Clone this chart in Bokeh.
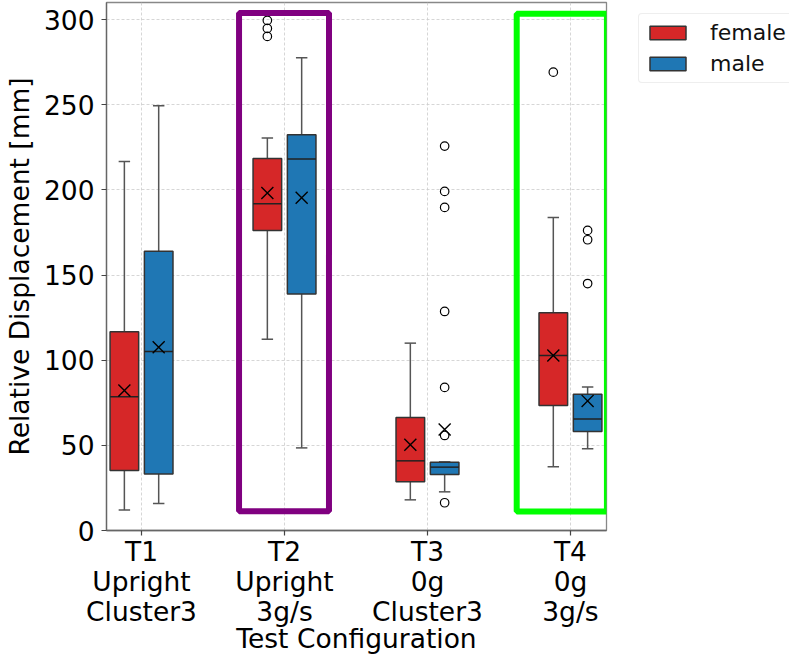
from bokeh.plotting import figure
from bokeh.models import FixedTicker, Legend, LegendItem, BoxAnnotation, ColumnDataSource
from bokeh.embed import file_html
from bokeh.resources import INLINE

# ---------------- data ----------------
categories = ["T1\nUpright\nCluster3", "T2\nUpright\n3g/s", "T3\n0g\nCluster3", "T4\n0g\n3g/s"]
groups = ["female", "male"]

female_q1 = [35.2, 176.2, 28.6, 73.4]
female_med = [78.5, 191.8, 40.9, 102.8]
female_q3 = [116.7, 218.4, 66.4, 127.8]
female_lo = [12.1, 112.3, 18.0, 37.4]
female_hi = [216.7, 230.4, 110.0, 183.8]
female_mean = [82.2, 198.1, 50.3, 102.8]
female_outliers = [[], [299.5, 294.8, 290.1], [], [269.1]]

male_q1 = [33.1, 138.8, 32.9, 58.1]
male_med = [105.1, 218.1, 37.2, 65.4]
male_q3 = [164.0, 232.3, 40.1, 80.0]
male_lo = [15.9, 48.5, 22.7, 48.0]
male_hi = [249.4, 277.5, 40.3, 84.2]
male_mean = [107.6, 195.4, 59.3, 76.1]
male_outliers = [[], [], [16.3, 55.8, 84.0, 128.6, 189.7, 199.1, 225.7], [145.0, 170.7, 176.2]]

y_ticks = [0, 50, 100, 150, 200, 250, 300]

# ---------------- styles ----------------
FONT = "DejaVu Sans"
colors = {"female": "#d62728", "male": "#1f77b4"}
offsets = {"female": -0.12, "male": 0.12}
BOX_W = 0.2
CAP_W = 0.08

p = figure(frame_width=500, frame_height=528, width=789, height=655,
           x_range=(-0.245, 3.252), y_range=(0, 310),
           output_backend="svg", toolbar_location=None,
           min_border_left=105, min_border_right=184, min_border_top=2, min_border_bottom=123)
p.background_fill_color = "white"
p.border_fill_color = "white"
p.outline_line_color = "#888888"
p.outline_line_width = 1.3

# grids
for g in (p.xgrid, p.ygrid):
    g.grid_line_color = "#cccccc"
    g.grid_line_dash = "3 2"
    g.grid_line_width = 0.8

p.xaxis.ticker = FixedTicker(ticks=list(range(len(categories))))
p.xaxis.major_label_overrides = {i: c for i, c in enumerate(categories)}
p.yaxis.ticker = FixedTicker(ticks=y_ticks)

for ax in (p.xaxis, p.yaxis):
    ax.axis_line_color = "#666666"
    ax.axis_line_width = 1.3
    ax.major_tick_line_color = "#444444"
    ax.major_tick_line_width = 1.2
    ax.major_tick_out = 5
    ax.major_tick_in = 0
    ax.minor_tick_line_color = None
    ax.major_label_text_font = FONT
    ax.major_label_text_font_size = "26.5px"
    ax.major_label_text_color = "black"
    ax.axis_label_text_font = FONT
    ax.axis_label_text_font_size = "26.5px"
    ax.axis_label_text_font_style = "normal"
    ax.axis_label_text_color = "black"

p.xaxis.major_label_text_line_height = 0.97
p.xaxis.axis_label = "Test Configuration"
p.yaxis.axis_label = "Relative Displacement [mm]"
p.xaxis.major_label_standoff = 0
p.xaxis.axis_label_standoff = -7
p.yaxis.major_label_standoff = 7
p.yaxis.axis_label_standoff = 6

stats = {
    "female": (female_q1, female_med, female_q3, female_lo, female_hi, female_mean, female_outliers),
    "male": (male_q1, male_med, male_q3, male_lo, male_hi, male_mean, male_outliers),
}

box_renderers = {}
for g in groups:
    q1, med, q3, lo, hi, mean, outs = stats[g]
    xs = [i + offsets[g] for i in range(len(categories))]
    src = ColumnDataSource(dict(x=xs, q1=q1, med=med, q3=q3, lo=lo, hi=hi, mean=mean,
                                cl=[x - CAP_W / 2 for x in xs], cr=[x + CAP_W / 2 for x in xs],
                                bl=[x - BOX_W / 2 for x in xs], br=[x + BOX_W / 2 for x in xs]))
    # whiskers
    p.segment(x0="x", y0="q3", x1="x", y1="hi", source=src, line_color="#555555", line_width=1.5)
    p.segment(x0="x", y0="q1", x1="x", y1="lo", source=src, line_color="#555555", line_width=1.5)
    p.segment(x0="cl", y0="hi", x1="cr", y1="hi", source=src, line_color="#555555", line_width=1.5)
    p.segment(x0="cl", y0="lo", x1="cr", y1="lo", source=src, line_color="#555555", line_width=1.5)
    # boxes
    box_renderers[g] = p.vbar(x="x", width=BOX_W, bottom="q1", top="q3", source=src,
                              fill_color=colors[g], line_color="#333333", line_width=1.5)
    # medians
    p.segment(x0="bl", y0="med", x1="br", y1="med", source=src, line_color="#222222", line_width=1.5)
    # outliers
    ox, oy = [], []
    for i, vals in enumerate(outs):
        for v in vals:
            ox.append(i + offsets[g])
            oy.append(v)
    p.scatter(ox, oy, marker="circle", size=8.5, fill_color=None, line_color="black", line_width=1.2)
    # means
    p.scatter(x="x", y="mean", source=src, marker="x", size=17, line_color="black", line_width=1.4)

# highlight boxes around T2 and T4
p.add_layout(BoxAnnotation(left=1 - 0.318, right=1 + 0.311, bottom=11.3, top=303.9,
                           fill_alpha=0, line_color="#800080", line_alpha=1, line_width=6))
p.add_layout(BoxAnnotation(left=3 - 0.376, right=3 + 0.255, bottom=11.2, top=303.4,
                           fill_alpha=0, line_color="#00ff00", line_alpha=1, line_width=6))

legend = Legend(items=[LegendItem(label=g, renderers=[box_renderers[g]]) for g in groups],
                location=(32, 447))
legend.margin = 0
legend.label_text_font = FONT
legend.label_text_font_size = "22px"
legend.label_text_color = "#111111"
legend.glyph_width = 45
legend.glyph_height = 17
legend.label_height = 20
legend.label_standoff = 20
legend.spacing = 6
legend.padding = 6
legend.border_line_color = "#dddddd"
legend.border_line_width = 1.2
legend.border_radius = 4
legend.background_fill_alpha = 1
p.add_layout(legend, "right")

open("out.html", "w").write(file_html(p, INLINE))
